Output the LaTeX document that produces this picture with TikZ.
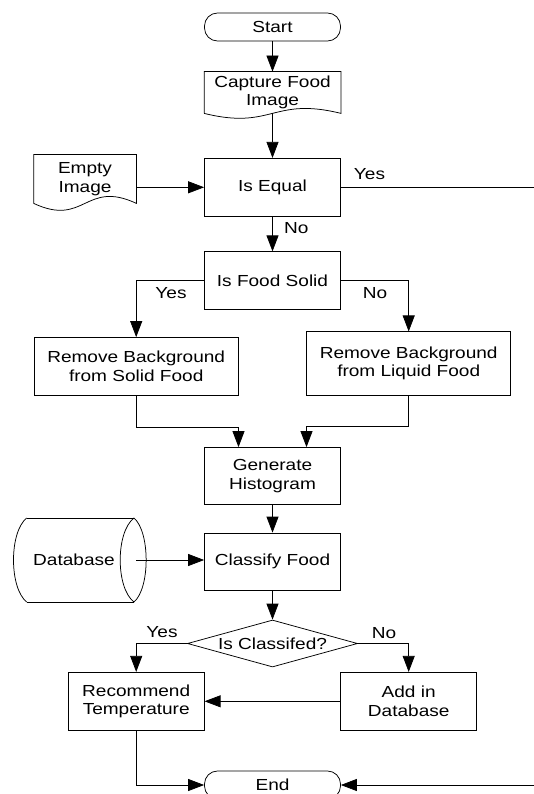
\documentclass[tikz,border=0pt]{standalone}
\usepackage{fontspec}
\setmainfont[FakeStretch=1.19]{Liberation Sans}
\usetikzlibrary{arrows.meta,shapes.geometric,calc}
\begin{document}
\begin{tikzpicture}[x=1pt,y=1pt,line width=0.75pt,
  every node/.style={font=\fontsize{16}{18.5}\selectfont, inner sep=0pt, align=center},
  proc/.style={draw, minimum width=136pt, minimum height=57.5pt},
  wideproc/.style={draw, minimum width=204pt},
  term/.style={draw, rounded corners=13pt, minimum width=136pt, minimum height=28pt},
  decide/.style={draw, diamond, aspect=3.6, minimum width=170pt, minimum height=47pt},
  doctext/.style={minimum width=#1},
  flow/.style={-{Triangle[length=16pt,width=12pt]}},
  lbl/.style={}
  ]
\useasboundingbox (0,0) rectangle (534,-794);

% nodes
\node[term] (start) at (272.5,-27) {Start};
\node[doctext=136pt, minimum height=41pt] (cap) at (272.5,-92.5) {Capture Food\\Image};
\draw (cap.south west) -- (cap.north west) -- (cap.north east) -- (cap.south east)
  .. controls ($(cap.south)+(0,17)$) and ($(cap.south)+(0,-17)$) .. (cap.south west);

\node[proc, minimum height=58pt] (eq) at (272.5,-187.3) {Is Equal};
\node[doctext=102pt, minimum height=48pt] (empty) at (85,-179) {Empty\\Image};
\draw (empty.south west) -- (empty.north west) -- (empty.north east) -- (empty.south east)
  .. controls ($(empty.south)+(0,24)$) and ($(empty.south)+(0,-24)$) .. (empty.south west);

\node[proc] (solid) at (272.5,-280.5) {Is Food Solid};
\node[wideproc, minimum height=58pt] (rmS) at (136.2,-366.5) {Remove Background\\from Solid Food};
\node[wideproc, minimum height=63.5pt] (rmL) at (408.7,-363.6) {Remove Background\\from Liquid Food};

\node[proc, minimum height=57pt] (hist) at (272.5,-476) {Generate\\Histogram};
\node[proc, minimum height=57pt] (cls) at (272.5,-561.5) {Classify Food};

\node[minimum width=124pt, minimum height=84pt] (db) at (74,-560) {Database};
\draw (26.7,-518) -- (134,-518);
\draw (26.7,-602) -- (134,-602);
\draw (26.7,-518) .. controls (9.1,-532) and (9.1,-588) .. (26.7,-602);
\draw (134,-518) .. controls (115.6,-532) and (115.6,-588) .. (134,-602);
\draw (134,-518) .. controls (150.2,-532) and (150.2,-588) .. (134,-602);

\node[decide] (dia) at (272.5,-643.5) {Is Classifed?};
\node[proc, minimum height=58pt] (rec) at (136.2,-701.3) {Recommend\\Temperature};
\node[proc, minimum height=58pt] (add) at (408.7,-701.3) {Add in\\Database};
\node[term] (end) at (272.5,-785) {End};

\coordinate (r1) at (534,-187.3);
\coordinate (r2) at (534,-785);

% labels
\node[lbl] (yesEq) at (369.5,-174.5) {Yes};
\node[lbl] (noEq) at (296.3,-228.5) {No};
\node[lbl] (yesSo) at (171,-293) {Yes};
\node[lbl] (noSo) at (375,-293) {No};
\node[lbl] (yesDi) at (162,-632) {Yes};
\node[lbl] (noDi) at (384,-633) {No};

% connectors
\draw[flow] (start) -- (cap.north);
\draw[flow] (cap.south) -- (eq.north);
\draw[flow] (empty.east |- eq.west) -- (eq.west);
\draw (eq.east) -- (r1);
\draw[flow] (eq.south) -- (solid.north);
\draw[flow] (solid.west) -| (rmS.north);
\draw[flow] (solid.east) -| (rmL.north);
\draw[flow] (rmS.south) -- ++(0,-31) -| ([xshift=-34pt]hist.north);
\draw[flow] (rmL.south) -- ++(0,-31) -| ([xshift=34pt]hist.north);
\draw[flow] (hist.south) -- (cls.north);
\draw[flow] (db.east) -- (db.east -| cls.west);
\draw[flow] (cls.south) -- (dia.north);
\draw[flow] (dia.west) -| (rec.north);
\draw[flow] (dia.east) -| (add.north);
\draw[flow] (add.west) -- (rec.east);
\draw[flow] (rec.south) |- (end.west);
\draw[flow] (r2) -- (end.east);
\end{tikzpicture}
\end{document}
